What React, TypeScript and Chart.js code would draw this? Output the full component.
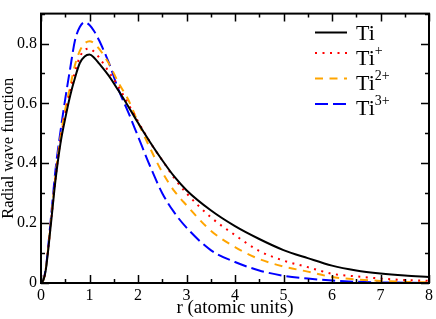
import React, { useEffect, useRef } from 'react';
import { Chart, registerables } from 'chart.js';

Chart.register(...registerables);

// r (atomic units)
const rValues = [0, 0.05, 0.1, 0.2, 0.3, 0.4, 0.5, 0.6, 0.7, 0.8, 0.9, 1.0, 1.1, 1.2, 1.4, 1.6, 1.8, 2.0, 2.25, 2.5, 2.75, 3.0, 3.5, 4.0, 4.5, 5.0, 5.5, 6.0, 6.5, 7.0, 7.5, 8.0];
// Ti
const tiValues = [0, 0.01, 0.045, 0.19, 0.345, 0.465, 0.55, 0.625, 0.685, 0.735, 0.757, 0.763, 0.752, 0.733, 0.692, 0.642, 0.59, 0.535, 0.47, 0.41, 0.355, 0.31, 0.243, 0.19, 0.147, 0.11, 0.083, 0.058, 0.042, 0.032, 0.025, 0.02];
// Ti+
const tiPlusValues = [0, 0.01, 0.047, 0.195, 0.35, 0.475, 0.565, 0.64, 0.705, 0.755, 0.778, 0.783, 0.772, 0.753, 0.705, 0.655, 0.598, 0.54, 0.47, 0.41, 0.35, 0.3, 0.22, 0.16, 0.107, 0.075, 0.053, 0.031, 0.022, 0.015, 0.01, 0.007];
// Ti2+
const ti2PlusValues = [0, 0.01, 0.048, 0.2, 0.36, 0.485, 0.58, 0.655, 0.728, 0.775, 0.8, 0.808, 0.8, 0.782, 0.733, 0.668, 0.612, 0.537, 0.45, 0.37, 0.307, 0.26, 0.175, 0.12, 0.08, 0.055, 0.038, 0.02, 0.012, 0.007, 0.004, 0.002];
// Ti3+
const ti3PlusValues = [0, 0.011, 0.05, 0.21, 0.38, 0.505, 0.615, 0.715, 0.81, 0.855, 0.871, 0.862, 0.84, 0.81, 0.735, 0.645, 0.57, 0.49, 0.39, 0.3, 0.235, 0.185, 0.11, 0.07, 0.042, 0.024, 0.015, 0.008, 0.004, 0.002, 0.001, 0];

const seriesLabels = ['Ti', 'Ti⁺', 'Ti²⁺', 'Ti³⁺'];
const legendBase = ['Ti', 'Ti', 'Ti', 'Ti'];
const legendSup = ['', '+', '2+', '3+'];
const seriesColors = ['#000000', '#ff0000', '#ffa500', '#0000ff'];
const seriesDashes: number[][] = [[], [2, 5.5], [8, 6.5], [13, 5]];

const xTitle = 'r (atomic units)';
const yTitle = 'Radial wave function';
const xMin = 0, xMax = 8, xMajor = 1, xMinor = 0.5;
const yMin = 0, yMax = 0.9, yMajor = 0.2, yMinor = 0.1;

const FONT = "'Liberation Serif', 'Times New Roman', serif";

const framePlugin = {
  id: 'frameTicks',
  afterDatasetsDraw(chart: any) {
    const { ctx, chartArea, scales } = chart;
    const { left, right, top, bottom } = chartArea;
    const xs = scales.x, ys = scales.y;
    ctx.save();
    ctx.strokeStyle = '#000';
    ctx.lineWidth = 1.5;
    ctx.setLineDash([]);
    ctx.beginPath();
    for (let i = 0; xMin + i * xMinor <= xMax + 1e-9; i++) {
      const v = xMin + i * xMinor;
      const major = Math.abs(v / xMajor - Math.round(v / xMajor)) < 1e-6;
      const len = major ? 8 : 4;
      const px = Math.round(xs.getPixelForValue(v)) + 0.5;
      ctx.moveTo(px, bottom); ctx.lineTo(px, bottom - len);
      ctx.moveTo(px, top); ctx.lineTo(px, top + len);
    }
    for (let i = 0; yMin + i * yMinor <= yMax + 1e-9; i++) {
      const v = yMin + i * yMinor;
      const major = Math.abs(v / yMajor - Math.round(v / yMajor)) < 1e-6;
      const len = major ? 8 : 4;
      const py = Math.round(ys.getPixelForValue(v)) + 0.5;
      ctx.moveTo(left, py); ctx.lineTo(left + len, py);
      ctx.moveTo(right, py); ctx.lineTo(right - len, py);
    }
    ctx.stroke();
    ctx.lineWidth = 2;
    ctx.strokeRect(left, top, right - left, bottom - top);
    ctx.restore();
  },
};

const legendPlugin = {
  id: 'supLegend',
  afterDraw(chart: any) {
    const { ctx } = chart;
    const baselines = [40, 65, 90, 115];
    const lineYs = [32.5, 53, 78.5, 104];
    const x0 = 315, x1 = 347, tx = 356;
    ctx.save();
    for (let i = 0; i < legendBase.length; i++) {
      const ds = chart.data.datasets[i];
      ctx.strokeStyle = ds.borderColor;
      ctx.lineWidth = ds.borderWidth;
      ctx.setLineDash(ds.borderDash || []);
      ctx.lineCap = 'butt';
      ctx.beginPath();
      ctx.moveTo(x0, lineYs[i]);
      ctx.lineTo(x1, lineYs[i]);
      ctx.stroke();
      ctx.setLineDash([]);
      ctx.fillStyle = '#000';
      ctx.textBaseline = 'alphabetic';
      ctx.textAlign = 'left';
      ctx.font = `22px ${FONT}`;
      ctx.fillText(legendBase[i], tx, baselines[i]);
      const w = ctx.measureText(legendBase[i]).width;
      if (legendSup[i]) {
        ctx.font = `14px ${FONT}`;
        ctx.fillText(legendSup[i], tx + w, baselines[i] - 10.5);
      }
    }
    ctx.restore();
  },
};

export default function App() {
  const canvasRef = useRef<HTMLCanvasElement | null>(null);

  useEffect(() => {
    const canvas = canvasRef.current;
    if (!canvas) return;
    const series = [tiValues, tiPlusValues, ti2PlusValues, ti3PlusValues];
    const chart = new Chart(canvas, {
      type: 'line',
      data: {
        datasets: series.map((vals, i) => ({
          label: seriesLabels[i],
          data: rValues.map((r, j) => ({ x: r, y: vals[j] })),
          borderColor: seriesColors[i],
          backgroundColor: seriesColors[i],
          borderWidth: 2,
          borderDash: seriesDashes[i],
          pointRadius: 0,
          fill: false,
          cubicInterpolationMode: 'monotone' as const,
        })),
      },
      options: {
        animation: false,
        responsive: false,
        maintainAspectRatio: false,
        layout: { padding: { left: 0, right: 5.5, top: 2, bottom: 0 } },
        plugins: {
          legend: { display: false },
          tooltip: { enabled: false },
        },
        scales: {
          x: {
            type: 'linear',
            min: xMin,
            max: xMax,
            afterFit: (s: any) => { s.height = 36; },
            grid: { display: false, drawTicks: false },
            border: { display: false },
            ticks: {
              stepSize: xMajor,
              includeBounds: false,
              color: '#000',
              padding: 3,
              font: { family: FONT, size: 16 },
              maxRotation: 0,
              autoSkip: false,
            },
            title: {
              display: true,
              text: xTitle,
              color: '#000',
              font: { family: FONT, size: 19, lineHeight: 1.2 },
              padding: { top: 1.5, bottom: 0 },
            },
          },
          y: {
            type: 'linear',
            min: yMin,
            max: yMax,
            afterFit: (s: any) => { s.width = 41; },
            grid: { display: false, drawTicks: false },
            border: { display: false },
            ticks: {
              stepSize: yMajor,
              includeBounds: false,
              color: '#000',
              padding: 4,
              font: { family: FONT, size: 16 },
              callback: (v: any) => (Number(v) === 0 ? '0' : Number(v).toFixed(1)),
            },
            title: {
              display: true,
              text: yTitle,
              color: '#000',
              font: { family: FONT, size: 16.5, lineHeight: 1 },
              padding: { top: 0, bottom: 0 },
            },
          },
        },
      },
      plugins: [framePlugin, legendPlugin],
    });
    return () => chart.destroy();
  }, []);

  return (
    <div style={{ position: 'absolute', left: 0, top: 0, width: 436, height: 319, background: '#fff' }}>
      <canvas ref={canvasRef} width={436} height={319} />
    </div>
  );
}
